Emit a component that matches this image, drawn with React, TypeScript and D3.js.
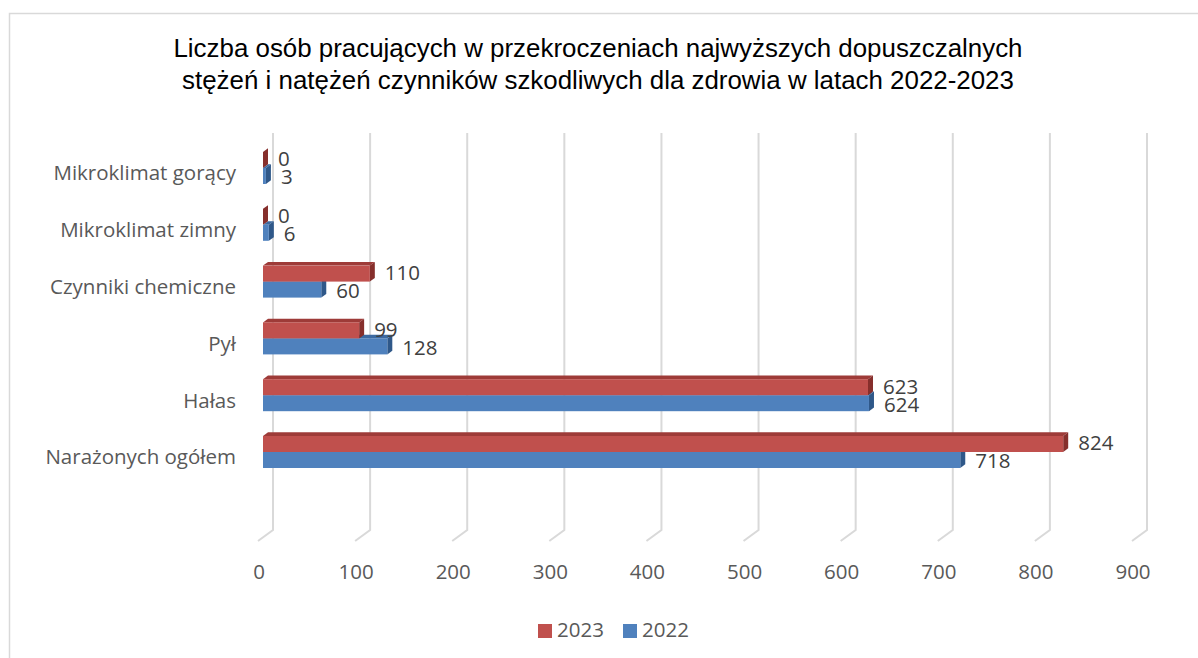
import * as d3 from "d3";
import { useEffect, useRef } from "react";

const categories = [
  "Mikroklimat gorący",
  "Mikroklimat zimny",
  "Czynniki chemiczne",
  "Pył",
  "Hałas",
  "Narażonych ogółem",
];
const values2023 = [0, 0, 110, 99, 623, 824];
const values2022 = [3, 6, 60, 128, 624, 718];
const ticks = [0, 100, 200, 300, 400, 500, 600, 700, 800, 900];
const titleLines = [
  "Liczba osób pracujących w przekroczeniach najwyższych dopuszczalnych",
  "stężeń i natężeń czynników szkodliwych dla zdrowia w latach 2022-2023",
];

const W = 1198;
const H = 658;
const FONT = "Open Sans, Noto Sans, sans-serif";

const App = () => {
  const svgRef = useRef<SVGSVGElement>(null);

  useEffect(() => {
    if (!svgRef.current) return;
    const svg = d3.select(svgRef.current);
    svg.selectAll("*").remove();

    // chart frame
    svg.append("rect")
      .attr("x", 9.5).attr("y", 13.5)
      .attr("width", W).attr("height", H)
      .attr("fill", "#fff").attr("stroke", "#d9d9d9").attr("stroke-width", 1.5);

    // title
    svg.append("g").selectAll("text")
      .data(titleLines)
      .join("text")
      .attr("x", 598)
      .attr("y", (_, i) => 57 + i * 32)
      .attr("text-anchor", "middle")
      .attr("font-family", "Liberation Sans, Arial, sans-serif")
      .attr("font-size", 25.9)
      .attr("fill", "#000")
      .text(d => d);

    // scales (front plane of the floor)
    const x = d3.scaleLinear().domain([0, 900]).range([258, 1132]);
    const y = d3.scaleBand().domain(categories).range([139.6, 480.4]).padding(0);
    const depth = { dx: 15, dy: -11 };
    const floorY = 541;
    const topY = 133;

    // gridlines on back wall + floor
    const grid = svg.append("g");
    ticks.forEach(t => {
      const bx = x(t) + depth.dx;
      grid.append("path")
        .attr("d", `M${bx},${topY}L${bx},${floorY + depth.dy}L${x(t)},${floorY}`)
        .attr("fill", "none")
        .attr("stroke", "#d9d9d9")
        .attr("stroke-width", 2);
    });

    // tick labels
    svg.append("g").selectAll("text")
      .data(ticks)
      .join("text")
      .attr("x", d => x(d) + 1)
      .attr("y", 579)
      .attr("text-anchor", "middle")
      .attr("font-family", FONT)
      .attr("font-size", 20.5)
      .attr("fill", "#595959")
      .text(d => d);

    // category labels
    svg.append("g").selectAll("text")
      .data(categories)
      .join("text")
      .attr("x", 236)
      .attr("y", d => y(d)! + y.bandwidth() / 2 + 7)
      .attr("text-anchor", "end")
      .attr("dominant-baseline", "middle")
      .attr("font-family", FONT)
      .attr("font-size", 20.5)
      .attr("fill", "#595959")
      .text(d => d);

    // 3D bars
    const barH = 16;
    const bdx = depth.dx / 3;
    const bdy = depth.dy / 3;
    const series = [
      { key: "2022", values: values2022, front: "#4f81bd", top: "#3d6aa1", side: "#2f5889", offset: 0, labelDy: 11 },
      { key: "2023", values: values2023, front: "#c0504d", top: "#9e3b38", side: "#862f2c", offset: -barH, labelDy: -7 },
    ];
    const bars = svg.append("g");
    series.forEach(s => {
      categories.forEach((c, i) => {
        const yc = y(c)! + y.bandwidth() / 2;
        const y0 = yc + s.offset;
        const x0 = x(0) + bdx;
        const x1 = x(s.values[i]) + bdx;
        const g = bars.append("g");
        // top face
        g.append("path")
          .attr("d", `M${x0},${y0}L${x0 + bdx},${y0 + bdy}L${x1 + bdx},${y0 + bdy}L${x1},${y0}Z`)
          .attr("fill", s.top);
        // side face
        g.append("path")
          .attr("d", `M${x1},${y0}L${x1 + bdx},${y0 + bdy}L${x1 + bdx},${y0 + barH + bdy}L${x1},${y0 + barH}Z`)
          .attr("fill", s.side);
        // front face
        g.append("rect")
          .attr("x", x0).attr("y", y0)
          .attr("width", Math.max(0, x1 - x0)).attr("height", barH)
          .attr("fill", s.front);
        // value label
        g.append("text")
          .attr("x", x1 + bdx + 10)
          .attr("y", yc + s.labelDy)
          .attr("dominant-baseline", "middle")
          .attr("font-family", FONT)
          .attr("font-size", 20.5)
          .attr("fill", "#404040")
          .text(s.values[i]);
      });
    });

    // legend
    const legendItems = [
      { label: "2023", color: "#c0504d", x: 538 },
      { label: "2022", color: "#4f81bd", x: 623 },
    ];
    const legend = svg.append("g");
    legendItems.forEach(l => {
      legend.append("rect")
        .attr("x", l.x).attr("y", 624)
        .attr("width", 14).attr("height", 14)
        .attr("fill", l.color);
      legend.append("text")
        .attr("x", l.x + 19).attr("y", 632)
        .attr("dominant-baseline", "middle")
        .attr("font-family", FONT)
        .attr("font-size", 20.5)
        .attr("fill", "#595959")
        .text(l.label);
    });
  }, []);

  return (
    <svg
      ref={svgRef}
      width={W}
      height={H}
      style={{ position: "absolute", left: 0, top: 0, background: "#fff" }}
    />
  );
};

export default App;
